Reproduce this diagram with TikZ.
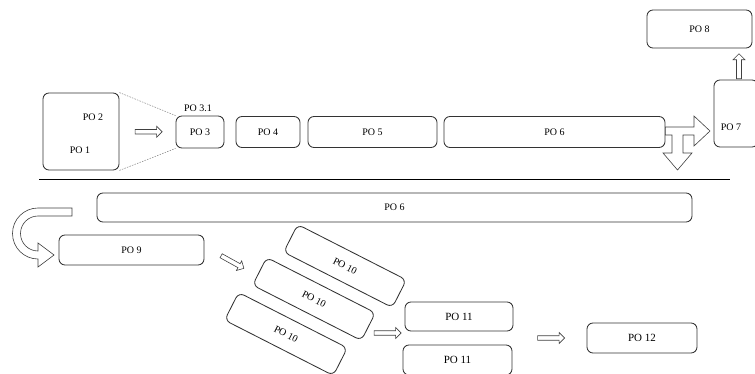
\documentclass[tikz,border=0pt]{standalone}
\usepackage{fontspec}
\setmainfont{Liberation Serif}
\usetikzlibrary{shapes.arrows,calc}

\begin{document}
\begin{tikzpicture}[x=1pt,y=-1pt,
    pobox/.style={draw=black!80,line width=0.85pt,rounded corners=6pt,inner sep=0pt,font=\fontsize{10}{12}\selectfont},
    potext/.style={inner sep=0pt,font=\fontsize{10}{12}\selectfont},
    hollow/.style={shape=single arrow,draw=black!75,line width=0.6pt,fill=white,inner sep=1.8pt,
      minimum width=11pt,minimum height=27pt,single arrow head extend=3pt}]
  \useasboundingbox (0,0) rectangle (755,374);
  % upper row
  \draw
    (81,131.5) node[pobox,minimum width=76pt,minimum height=77pt] (po12) {}
    (200,132) node[pobox,minimum width=48pt,minimum height=32pt] (po3) {PO 3}
    (268,132) node[pobox,minimum width=64pt,minimum height=31pt] (po4) {PO 4}
    (372.5,132) node[pobox,minimum width=129pt,minimum height=31pt] (po5) {PO 5}
    (554.5,132) node[pobox,minimum width=221pt,minimum height=31pt] (po6) {PO 6}
    (736,113.5) node[pobox,minimum width=44pt,minimum height=67pt] (po7) {}
    (699.5,29) node[pobox,minimum width=105pt,minimum height=38pt] (po8) {PO 8};
  \node[potext] (po2label) at (93,117) {PO 2};
  \node[potext] (po1label) at (80,150) {PO 1};
  \node[potext] (po31label) at (198,108) {PO 3.1};
  \node[potext] (po7label) at (731,127) {PO 7};
  \draw[gray,line width=0.5pt,dash pattern=on 1.5pt off 1.2pt]
    (po12.north east) -- (po3.north west)
    (po12.south east) -- (po3.south west);
  \node[hollow] (a13) at ($(po12.east)!0.5!(po3.west)$) {};
  \node[hollow,rotate=90,minimum height=25pt,minimum width=12pt] (a78) at (739,67.5) {};
  \draw[draw=black!75,line width=0.6pt,fill=white]
    (po6.east |- 0,127) -- (694,127) -- (694,116) -- (710,131) -- (694,146) -- (694,135)
    -- (683,135) -- (683,153) -- (692,153) -- (677.5,170) -- (663,153) -- (672,153)
    -- (672,135) -- (po6.east |- 0,135) -- cycle;
  \draw[line width=1.8pt] (39,179.5) -- (730,179.5);
  % lower row
  \draw
    (394.5,207.5) node[pobox,minimum width=595pt,minimum height=29pt] (po6b) {PO 6}
    (131.5,250) node[pobox,minimum width=145pt,minimum height=30pt] (po9) {PO 9}
    (345,266) node[pobox,rotate=-27,minimum width=122pt,minimum height=31pt] (po10a) {PO 10}
    (314,299) node[pobox,rotate=-27,minimum width=122pt,minimum height=31pt] (po10b) {PO 10}
    (286,334) node[pobox,rotate=-27,minimum width=122pt,minimum height=31pt] (po10c) {PO 10}
    (459,316.5) node[pobox,minimum width=108pt,minimum height=29pt,font=\fontsize{11}{13}\selectfont] (po11a) {PO 11}
    (457.5,360) node[pobox,minimum width=109pt,minimum height=30pt,font=\fontsize{11}{13}\selectfont] (po11b) {PO 11}
    (642,338) node[pobox,minimum width=110pt,minimum height=30pt,font=\fontsize{11}{13}\selectfont] (po12b) {PO 12};
  \draw[draw=black!75,line width=0.6pt,fill=white]
    (po6b.west -| 72,0) ++(0,0.5) -- (38,208) arc[start angle=270,end angle=90,radius=25.5]
    -- (38,267) -- (54,255) -- (38,243) -- (38,251)
    arc[start angle=90,end angle=270,radius=17.5] -- (72,216) -- cycle;
  \node[hollow,rotate=-29,minimum height=26pt] (a910) at (231.5,261.5) {};
  \node[hollow] (a1011) at (386.5,333) {};
  \node[hollow] (a1112) at (550,338) {};
\end{tikzpicture}
\end{document}
